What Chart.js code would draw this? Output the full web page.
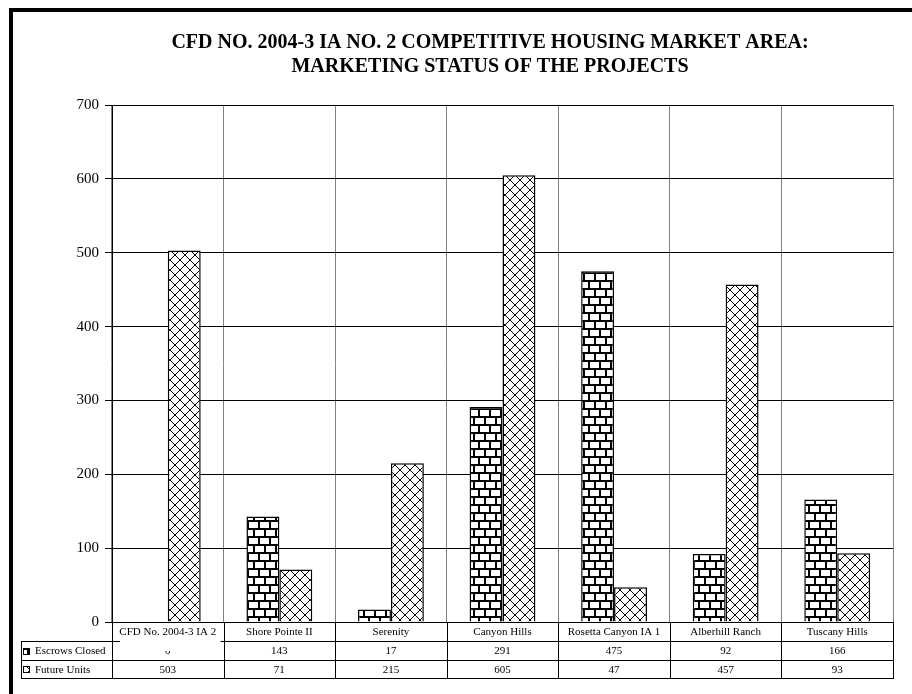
<!DOCTYPE html>
<html>
<head>
<meta charset="utf-8">
<script src="https://cdn.jsdelivr.net/npm/chart.js@4.4.1/dist/chart.umd.min.js"></script>
<style>
  html, body { margin: 0; padding: 0; background: #fff; }
  #wrap { width: 912px; height: 694px; position: relative; }
</style>
</head>
<body>
<div id="wrap"><canvas id="chart" width="912" height="694"></canvas></div>
<script>
// --- data ---
const projects = ['CFD No. 2004-3 IA 2', 'Shore Pointe II', 'Serenity', 'Canyon Hills',
  'Rosetta Canyon IA 1', 'Alberhill Ranch', 'Tuscany Hills'];
const escrowsClosed = [0, 143, 17, 291, 475, 92, 166];
const futureUnits = [503, 71, 215, 605, 47, 457, 93];
const seriesNames = ['Escrows Closed', 'Future Units'];
const titleLines = ['CFD NO. 2004-3 IA NO. 2 COMPETITIVE HOUSING MARKET AREA:',
  'MARKETING STATUS OF THE PROJECTS'];

const SERIF = '"Liberation Serif", "Times New Roman", serif';

// brick fill
function brickPattern() {
  const c = document.createElement('canvas');
  c.width = 22; c.height = 16;
  const g = c.getContext('2d');
  g.fillStyle = '#fff';
  g.fillRect(0, 0, 22, 16);
  g.fillStyle = '#000';
  g.fillRect(0, 0, 22, 2);
  g.fillRect(0, 8, 22, 2);
  g.fillRect(0, 0, 2, 8);
  g.fillRect(11, 0, 2, 8);
  g.fillRect(5, 8, 2, 8);
  g.fillRect(16, 8, 2, 8);
  return g.createPattern(c, 'repeat');
}

// diagonal cross hatch fill
function hatchPattern() {
  const c = document.createElement('canvas');
  c.width = 10; c.height = 10;
  const g = c.getContext('2d');
  g.fillStyle = '#fff';
  g.fillRect(0, 0, 10, 10);
  g.strokeStyle = '#000';
  g.lineWidth = 1;
  g.beginPath();
  g.moveTo(-1, -1); g.lineTo(11, 11);
  g.moveTo(11, -1); g.lineTo(-1, 11);
  g.stroke();
  return g.createPattern(c, 'repeat');
}

const brick = brickPattern();
const hatch = hatchPattern();

// title, outer frame and data table under the plot
const extras = {
  id: 'extras',
  afterDraw(chart) {
    const ctx = chart.ctx;
    const area = chart.chartArea;
    const n = projects.length;
    const step = (area.right - area.left) / n;
    ctx.save();

    // frame
    ctx.fillStyle = '#000';
    ctx.fillRect(9, 8, 903, 4);
    ctx.fillRect(9, 8, 4, 686);

    // title
    ctx.font = 'bold 20px ' + SERIF;
    ctx.textAlign = 'center';
    ctx.textBaseline = 'middle';
    ctx.fillText(titleLines[0], 490, 43);
    ctx.fillText(titleLines[1], 490, 67);

    // table
    const top = area.bottom;
    const r1 = top + 19, r2 = r1 + 19, r3 = r2 + 18;
    const tl = 21;
    ctx.strokeStyle = '#000';
    ctx.lineWidth = 1;
    ctx.beginPath();
    [r1, r2, r3].forEach(y => { ctx.moveTo(tl, y + 0.5); ctx.lineTo(area.right, y + 0.5); });
    ctx.moveTo(tl + 0.5, r1); ctx.lineTo(tl + 0.5, r3 + 1);
    for (let i = 0; i <= n; i++) {
      const x = Math.round(area.left + i * step) + 0.5;
      ctx.moveTo(x, top); ctx.lineTo(x, r3 + 1);
    }
    ctx.stroke();

    ctx.font = '11px ' + SERIF;
    ctx.fillStyle = '#000';
    const rows = [escrowsClosed, futureUnits];
    for (let i = 0; i < n; i++) {
      const cx = area.left + (i + 0.5) * step;
      ctx.fillText(String(rows[0][i]), cx, (r1 + r2) / 2 + 1);
      ctx.fillText(String(rows[1][i]), cx, (r2 + r3) / 2 + 1);
    }
    // the first label box covers part of the row below it
    ctx.fillStyle = '#fff';
    ctx.fillRect(area.left + 8, top + 2, step - 11, 27);
    ctx.fillStyle = '#000';
    for (let i = 0; i < n; i++) {
      const cx = area.left + (i + 0.5) * step;
      ctx.fillText(projects[i], cx, (top + r1) / 2 + 1);
    }

    // legend keys
    const fills = [brick, hatch];
    ctx.textAlign = 'left';
    [[r1, r2], [r2, r3]].forEach((r, k) => {
      const ky = Math.round((r[0] + r[1]) / 2) - 3;
      ctx.fillStyle = fills[k];
      ctx.fillRect(23, ky, 7, 7);
      ctx.strokeStyle = '#000';
      ctx.strokeRect(23.5, ky + 0.5, 6, 6);
      ctx.fillStyle = '#000';
      ctx.fillText(seriesNames[k], 35, (r[0] + r[1]) / 2 + 1);
    });
    ctx.restore();
  }
};

new Chart(document.getElementById('chart'), {
  type: 'bar',
  data: {
    labels: projects,
    datasets: [
      { label: seriesNames[0], data: escrowsClosed, backgroundColor: brick,
        borderColor: '#000', borderWidth: 1.5, categoryPercentage: 0.59, barPercentage: 1 },
      { label: seriesNames[1], data: futureUnits, backgroundColor: hatch,
        borderColor: '#000', borderWidth: 1.5, categoryPercentage: 0.59, barPercentage: 1 }
    ]
  },
  options: {
    responsive: false,
    animation: false,
    layout: { padding: { left: 0, right: 19, top: 105, bottom: 0 } },
    plugins: { legend: { display: false }, tooltip: { enabled: false }, title: { display: false } },
    scales: {
      x: {
        ticks: { display: false },
        grid: { color: '#808080', offset: true, drawTicks: false },
        border: { color: '#000' },
        afterFit: s => { s.height = 72; }
      },
      y: {
        min: 0, max: 700,
        ticks: { stepSize: 100, color: '#000', padding: 6, font: { family: SERIF, size: 15 } },
        grid: { color: '#000', tickLength: 7, tickColor: '#000' },
        border: { color: '#000' },
        afterFit: s => { s.width = 112; }
      }
    }
  },
  plugins: [extras]
});
</script>
</body>
</html>
